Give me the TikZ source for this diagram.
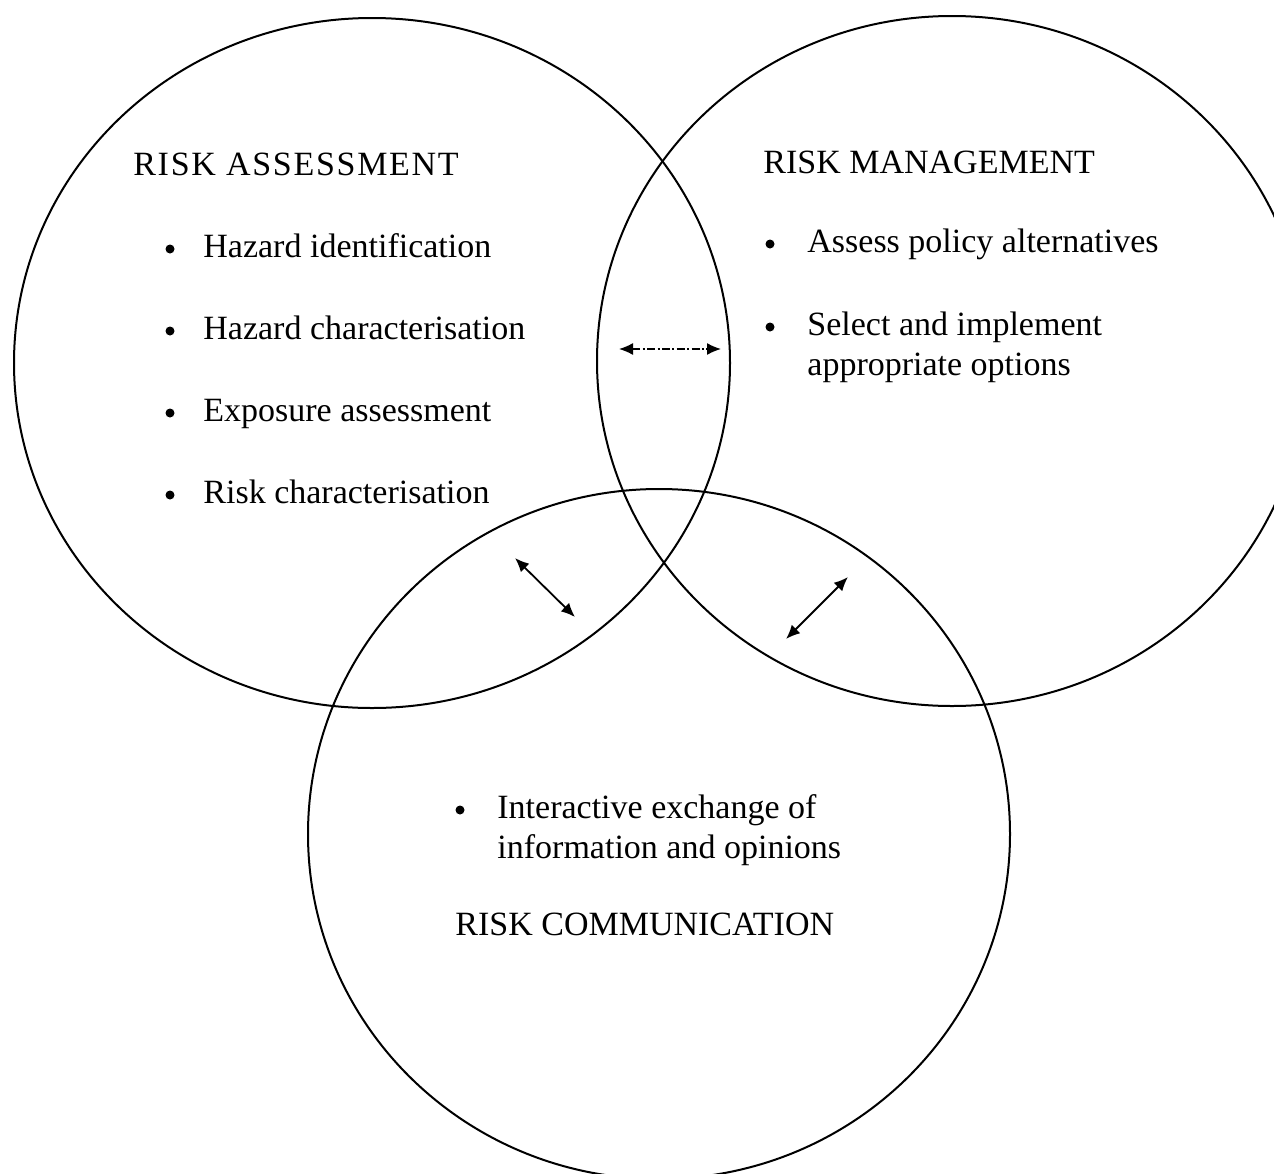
\documentclass[tikz,border=0pt]{standalone}
\usepackage{fontspec}
\setmainfont{Liberation Serif}
\usetikzlibrary{arrows.meta}
\tikzset{
  ring/.style={draw=black, line width=1pt},
  txt/.style={anchor=base west, inner sep=0pt, font=\fontsize{17pt}{20pt}\selectfont},
  dot/.style={circle, fill=black, inner sep=0pt, minimum size=4.5pt},
  link/.style={line width=0.9pt, {Latex[length=7pt,width=6pt]}-{Latex[length=7pt,width=6pt]}},
  dlink/.style={line width=0.7pt, dash pattern=on 4pt off 1.2pt on 1pt off 1.2pt, {Latex[length=7pt,width=6pt]}-{Latex[length=7pt,width=6pt]}}
}
\begin{document}
\begin{tikzpicture}[x=0.5pt,y=-0.5pt]
\useasboundingbox (0,0) rectangle (1274,1173);
\fill[white] (0,0) rectangle (1274,1173);
\clip (0,0) rectangle (1274,1173);
% circles
\draw[ring] (372,363) ellipse [x radius=358, y radius=345];
\draw[ring] (952,361) ellipse [x radius=355, y radius=345];
\draw[ring] (659,834) ellipse [x radius=351, y radius=345];
% risk assessment
\node[txt] (ra) at (133,175) {\addfontfeatures{LetterSpace=5}RISK ASSESSMENT};
\node[dot] (b1) at (170,249) {};
\node[txt] (t1) at (203,257) {Hazard identification};
\node[dot] (b2) at (170,331) {};
\node[txt] (t2) at (203,339) {Hazard characterisation};
\node[dot] (b3) at (170,413) {};
\node[txt] (t3) at (203,421) {Exposure assessment};
\node[dot] (b4) at (170,495) {};
\node[txt] (t4) at (203,503) {Risk characterisation};
% risk management
\node[txt] (rm) at (763,173) {RISK MANAGEMENT};
\node[dot] (b5) at (770,244) {};
\node[txt] (t5) at (807,252) {Assess policy alternatives};
\node[dot] (b6) at (770,327) {};
\node[txt] (t6) at (807,335) {Select and implement};
\node[txt] (t7) at (807,375) {appropriate options};
% risk communication
\node[dot] (b7) at (460,810) {};
\node[txt] (t8) at (497,818) {Interactive exchange of};
\node[txt] (t9) at (497,858) {information and opinions};
\node[txt] (rc) at (455,935) {RISK COMMUNICATION};
% arrows
\coordinate (a1) at (619,349);
\coordinate (a2) at (721,349);
\coordinate (c1) at (515,558);
\coordinate (c2) at (575,617);
\coordinate (d1) at (848,577);
\coordinate (d2) at (786,639);
\draw[dlink] (a1) -- (a2);
\draw[link] (c1) -- (c2);
\draw[link] (d1) -- (d2);
\end{tikzpicture}
\end{document}
